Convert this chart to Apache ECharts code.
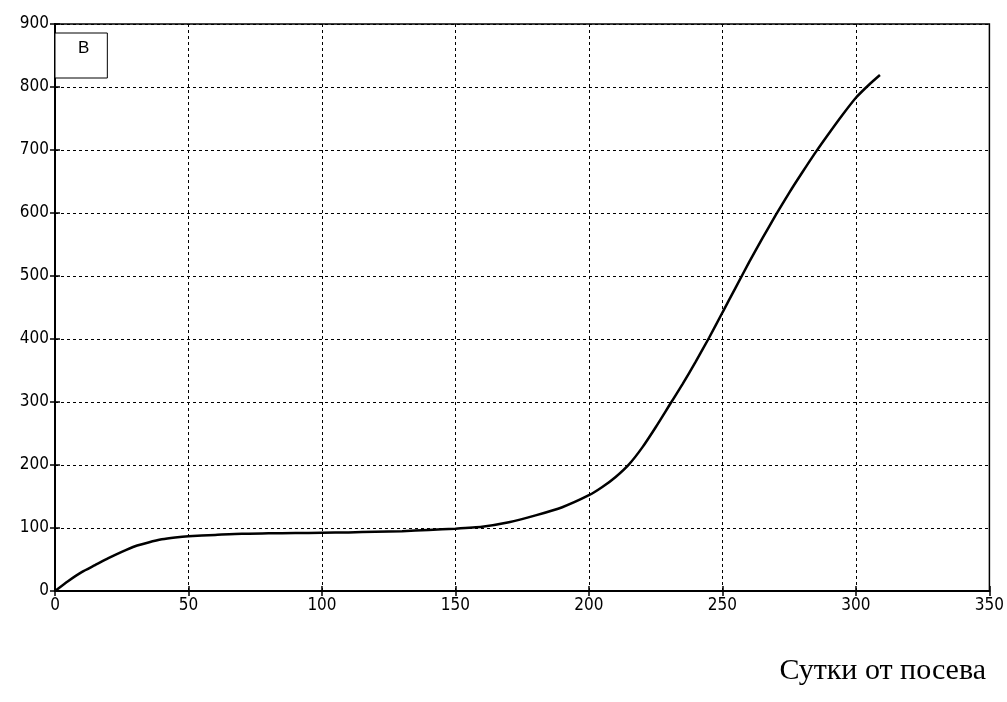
<!DOCTYPE html>
<html><head><meta charset="utf-8">
<script src="https://cdn.jsdelivr.net/npm/echarts@6/dist/echarts.min.js"></script>
<style>html,body{margin:0;padding:0;background:#fff}#c{width:1007px;height:702px}</style>
</head><body><div id="c"></div>
<script>
const seriesName = 'B';
const xTitle = 'Сутки от посева';
const days = [0,5,10,15,20,25,30,35,40,45,50,60,70,80,90,100,110,120,130,140,150,160,170,180,190,200,205,210,215,220,225,230,235,240,245,250,255,260,265,270,275,280,285,290,295,300,305,309];
const values = [0,16,30,41,52,62,71,77,82,85,87,89,91,91.5,92,92.5,93,94,95,97,99,102,109,120,133,152,165,181,201,228,260,294,328,364,402,442,482,522,560,597,632,665,697,727,756,783,804,819];

const pts = days.map((d,i)=>[d, values[i]]);
const chart = echarts.init(document.getElementById('c'));
const labelFont = {color:'#000', fontFamily:'Liberation Sans Narrow, DejaVu Sans Condensed, Arial, sans-serif', fontSize:17};
const gridLine = {show:true, lineStyle:{color:'#000', type:[3,3], width:1}};
chart.setOption({
  animation:false,
  backgroundColor:'#fff',
  title:{text:xTitle, right:16, top:651, textStyle:{fontFamily:'Liberation Serif, Times New Roman, serif', fontWeight:'normal', fontSize:30, color:'#000'}},
  legend:{data:[seriesName], left:55, top:33, orient:'vertical', itemWidth:0, itemHeight:0, icon:'rect', itemGap:0,
    padding:[7,18,21,18], borderColor:'#000', borderWidth:1, backgroundColor:'#fff',
    textStyle:{fontFamily:'Liberation Sans, Arial, sans-serif', fontSize:17, color:'#000'}},
  grid:{left:55, right:14, top:24, bottom:111, show:true, borderColor:'#000', borderWidth:1.5},
  xAxis:[{type:'value', min:0, max:350, interval:50,
    axisLine:{show:true, lineStyle:{color:'#000', width:2}},
    axisTick:{show:true, inside:true, length:5, lineStyle:{color:'#000', width:1.5}},
    axisLabel:{...labelFont, margin:6},
    splitLine:gridLine},
    {type:'value', min:0, max:350, interval:50, position:'top',
    axisLine:{show:true, lineStyle:{color:'#000', width:1.5}},
    axisTick:{show:true, inside:true, length:5, lineStyle:{color:'#000', width:1.5}},
    axisLabel:{show:false}, splitLine:{show:false}}],
  yAxis:[{type:'value', min:0, max:900, interval:100,
    axisLine:{show:true, lineStyle:{color:'#000', width:2}},
    axisTick:{show:true, inside:true, length:5, lineStyle:{color:'#000', width:1.5}},
    axisLabel:{...labelFont, margin:6},
    splitLine:gridLine},
    {type:'value', min:0, max:900, interval:100, position:'right',
    axisLine:{show:true, lineStyle:{color:'#000', width:1.5}},
    axisTick:{show:true, inside:true, length:5, lineStyle:{color:'#000', width:1.5}},
    axisLabel:{show:false}, splitLine:{show:false}}],
  series:[{name:seriesName, type:'line', data:pts, smooth:0.2, showSymbol:false,
    lineStyle:{color:'#000', width:2.5}, itemStyle:{color:'#000'}}]
});
</script></body></html>
